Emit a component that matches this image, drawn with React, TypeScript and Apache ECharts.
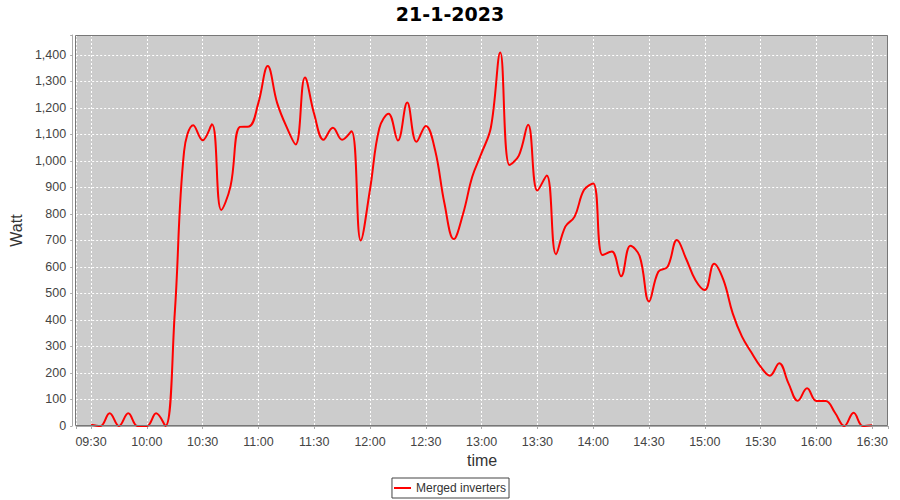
import React, { useEffect, useRef } from "react";
import * as echarts from "echarts";

const chartTitle = "21-1-2023";
const seriesName = "Merged inverters";
const xAxisName = "time";
const yAxisName = "Watt";

const times = [
  "09:30", "09:35", "09:40", "09:45", "09:50", "09:55",
  "10:00", "10:05", "10:10", "10:15", "10:20", "10:25", "10:30", "10:35", "10:40", "10:45", "10:50", "10:55",
  "11:00", "11:05", "11:10", "11:15", "11:20", "11:25", "11:30", "11:35", "11:40", "11:45", "11:50", "11:55",
  "12:00", "12:05", "12:10", "12:15", "12:20", "12:25", "12:30", "12:35", "12:40", "12:45", "12:50", "12:55",
  "13:00", "13:05", "13:10", "13:15", "13:20", "13:25", "13:30", "13:35", "13:40", "13:45", "13:50", "13:55",
  "14:00", "14:05", "14:10", "14:15", "14:20", "14:25", "14:30", "14:35", "14:40", "14:45", "14:50", "14:55",
  "15:00", "15:05", "15:10", "15:15", "15:20", "15:25", "15:30", "15:35", "15:40", "15:45", "15:50", "15:55",
  "16:00", "16:05", "16:10", "16:15", "16:20", "16:25", "16:30",
];

const watts = [
  5, 0, 48, 0, 48, 0,
  0, 48, 0, 425, 1035, 1135, 1078, 1138, 815, 905, 1128, 1130,
  1220, 1358, 1220, 1130, 1062, 1315, 1176, 1080, 1125, 1080, 1112, 700,
  893, 1123, 1178, 1077, 1220, 1072, 1132, 1040, 840, 705, 800, 941,
  1030, 1127, 1409, 985, 1020, 1136, 888, 945, 648, 752, 790, 890,
  915, 645, 658, 565, 680, 640, 470, 582, 601, 702, 630, 550,
  513, 612, 551, 425, 337, 278, 224, 190, 237, 161, 95, 142,
  94, 94, 50, 0, 50, 0, 3,
];

const xMin = 562;
const xMax = 998.5;
const yMin = 0;
const yMax = 1475;

const toMinutes = (s: string) => {
  const [h, m] = s.split(":").map(Number);
  return h * 60 + m;
};
const fmtTime = (v: number) => {
  const h = Math.floor(v / 60);
  const m = Math.round(v - h * 60);
  return String(h).padStart(2, "0") + ":" + String(m).padStart(2, "0");
};

const labelFont = "'Liberation Sans', Arial, sans-serif";

export default function App() {
  const ref = useRef<HTMLDivElement>(null);
  useEffect(() => {
    if (!ref.current) return;
    const chart = echarts.init(ref.current, null, { renderer: "svg" });
    const data = times.map((t, i) => [toMinutes(t), watts[i]]);
    chart.setOption({
      animation: false,
      backgroundColor: "#ffffff",
      title: {
        text: chartTitle,
        left: "center",
        top: -1,
        textStyle: { fontFamily: "'DejaVu Sans', sans-serif", fontWeight: "bold", fontSize: 19, color: "#000" },
      },
      legend: {
        left: "center",
        bottom: 2,
        icon: "rect",
        itemWidth: 17,
        itemHeight: 2,
        borderColor: "#444",
        borderWidth: 1,
        borderRadius: 0,
        padding: [4, 3, 4, 2],
        textStyle: { fontFamily: labelFont, fontSize: 12, color: "#333" },
        data: [seriesName],
      },
      grid: {
        left: 75,
        right: 12,
        top: 35,
        bottom: 74,
        show: true,
        backgroundColor: "#cccccc",
        borderWidth: 0,
      },
      xAxis: {
        type: "value",
        min: xMin,
        max: xMax,
        minInterval: 30,
        maxInterval: 30,
        offset: 4,
        name: xAxisName,
        nameLocation: "middle",
        nameGap: 17,
        nameTextStyle: { fontFamily: labelFont, fontSize: 16, color: "#333" },
        axisLine: { show: true, lineStyle: { color: "#aaaaaa", width: 1 } },
        axisTick: { show: true, length: 3, lineStyle: { color: "#aaaaaa" } },
        axisLabel: {
          margin: 5,
          fontFamily: labelFont,
          fontSize: 12.5,
          color: "#444",
          formatter: (v: number) => (Math.abs(v % 30) < 1e-6 ? fmtTime(v) : ""),
        },
        splitLine: { show: true, lineStyle: { color: "#ffffff", type: [2, 2], width: 1 } },
      },
      yAxis: {
        type: "value",
        min: yMin,
        max: yMax,
        interval: 100,
        offset: 4,
        name: yAxisName,
        nameLocation: "middle",
        nameGap: 40,
        nameTextStyle: { fontFamily: labelFont, fontSize: 16, color: "#333" },
        axisLine: { show: true, lineStyle: { color: "#aaaaaa", width: 1 } },
        axisTick: { show: true, length: 2, lineStyle: { color: "#aaaaaa" } },
        axisLabel: {
          margin: 6,
          fontFamily: labelFont,
          fontSize: 12.5,
          color: "#444",
          formatter: (v: number) => (Math.abs(v % 100) < 1e-6 ? v.toLocaleString("en-US") : ""),
        },
        splitLine: { show: true, lineStyle: { color: "#ffffff", type: [2, 2], width: 1 } },
      },
      graphic: [
        {
          type: "rect",
          z: 100,
          silent: true,
          shape: { x: 75.5, y: 35.5, width: 812, height: 390 },
          style: { fill: "none", stroke: "#777777", lineWidth: 1 },
        },
      ],
      series: [
        {
          type: "line",
          name: seriesName,
          data,
          smooth: 0.4,
          showSymbol: false,
          clip: true,
          lineStyle: { color: "#ff0000", width: 2 },
          itemStyle: { color: "#ff0000" },
        },
      ],
    });
    return () => chart.dispose();
  }, []);
  return (
    <div
      ref={ref}
      style={{ position: "fixed", left: 0, top: 0, width: 900, height: 500 }}
    />
  );
}
